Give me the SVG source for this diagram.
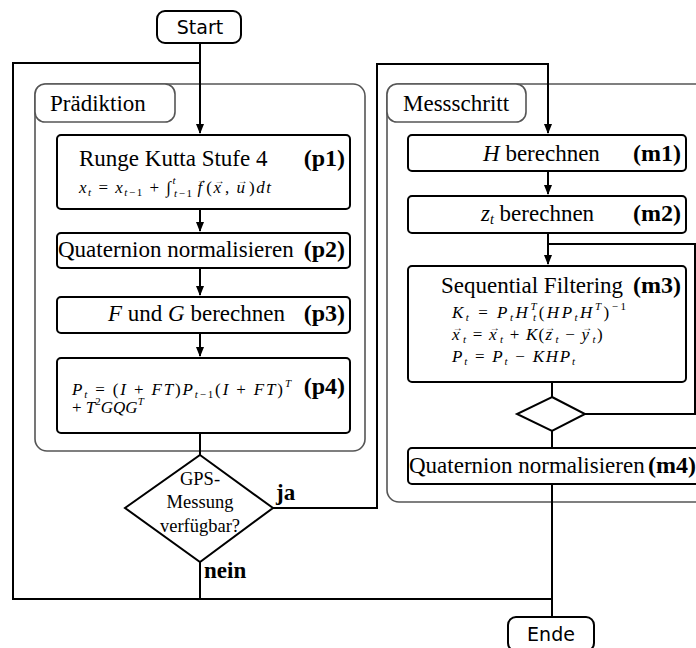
<svg xmlns="http://www.w3.org/2000/svg" width="696" height="648" viewBox="0 0 696 648">
<style>
.cont{fill:none;stroke:#555;stroke-width:1.6}
.lab{fill:#fff;stroke:#555;stroke-width:1.6}
.box{fill:#fff;stroke:#000;stroke-width:2}
.term{fill:#fff;stroke:#000;stroke-width:2}
.ln{fill:none;stroke:#000;stroke-width:2}
.t{font-family:"Liberation Serif","Times New Roman",serif;font-size:23px;fill:#000}
.d{font-family:"Liberation Serif","Times New Roman",serif;font-size:18.5px;fill:#000;text-anchor:middle}
.b{font-family:"Liberation Serif","Times New Roman",serif;font-weight:bold;font-size:24px;fill:#000}
.yn{font-family:"Liberation Serif","Times New Roman",serif;font-weight:bold;font-size:23px;fill:#000}
.m{font-family:"Liberation Serif","Times New Roman",serif;font-size:17px;fill:#000}
.i{font-style:italic}
.u{font-size:11px}
.v{font-size:10px}
.s{font-family:"DejaVu Sans",sans-serif;font-size:19px;fill:#000}
</style>
<defs>
<marker id="ar" markerWidth="10" markerHeight="10" refX="9" refY="5" orient="auto" markerUnits="userSpaceOnUse">
<path d="M0,1 L10,5 L0,9 Z" fill="#000"/>
</marker>
</defs>

<g id="containers">
<g id="praediktion">
<rect class="cont" x="35" y="84" width="330" height="367" rx="12"/>
<rect class="lab" x="35" y="84" width="140" height="38" rx="10"/>
<text class="t" x="50" y="111">Prädiktion</text>
</g>
<g id="messschritt">
<rect class="cont" x="387" y="84" width="330" height="418" rx="12"/>
<rect class="lab" x="387" y="84" width="139" height="38" rx="10"/>
<text class="t" x="403" y="111">Messschritt</text>
</g>
</g>

<g id="connectors">
<path class="ln" d="M200,43 V133" marker-end="url(#ar)"/>
<path class="ln" d="M200,63 H13 V599 H552"/>
<path class="ln" d="M200,209 V231" marker-end="url(#ar)"/>
<path class="ln" d="M200,268 V295" marker-end="url(#ar)"/>
<path class="ln" d="M200,333 V356" marker-end="url(#ar)"/>
<path class="ln" d="M200,433 V455"/>
<path class="ln" d="M200,562 V599"/>
<path class="ln" d="M273,508 H377 V64 H548 V133" marker-end="url(#ar)"/>
<path class="ln" d="M548,171 V194" marker-end="url(#ar)"/>
<path class="ln" d="M548,233 V264" marker-end="url(#ar)"/>
<path class="ln" d="M548,244 H695 V414 H585"/>
<path class="ln" d="M552,382 V397"/>
<path class="ln" d="M552,431 V448"/>
<path class="ln" d="M552,484 V617"/>
<text class="yn" x="276" y="500">ja</text>
<text class="yn" x="204" y="578">nein</text>
</g>

<g id="start">
<rect class="term" x="157" y="11" width="84" height="32" rx="8"/>
<text class="s" x="200" y="34" text-anchor="middle">Start</text>
</g>

<g id="p1">
<rect class="box" x="57" y="135" width="293" height="74" rx="4"/>
<text class="t" x="79" y="166">Runge Kutta Stufe 4</text>
<text class="b" x="345" y="166" text-anchor="end">(p1)</text>
<text class="m" x="79" y="193" textLength="192" lengthAdjust="spacing"><tspan class="i">x</tspan><tspan class="u i" dy="3">t</tspan><tspan dy="-3"> = </tspan><tspan class="i">x</tspan><tspan class="u" dy="3"><tspan class="i">t</tspan>−1</tspan><tspan dy="-3"> + ∫</tspan><tspan class="u i" dy="-9">t</tspan><tspan class="u" dx="-3" dy="13"><tspan class="i">t</tspan>−1</tspan><tspan class="i" dx="4" dy="-4">f</tspan><tspan class="v" dx="-7" dy="-10">→</tspan><tspan dx="-2" dy="10">(</tspan><tspan class="i">x</tspan><tspan class="v" dx="-8" dy="-9">→</tspan><tspan dx="-1" dy="9">, </tspan><tspan class="i">u</tspan><tspan class="v" dx="-9" dy="-9">→</tspan><tspan dx="0" dy="9">)</tspan><tspan class="i">dt</tspan></text>
</g>

<g id="p2">
<rect class="box" x="57" y="233" width="293" height="35" rx="4"/>
<text class="t" x="58" y="257">Quaternion normalisieren</text>
<text class="b" x="345" y="257" text-anchor="end">(p2)</text>
</g>

<g id="p3">
<rect class="box" x="57" y="297" width="293" height="36" rx="4"/>
<text class="t" x="108" y="321"><tspan class="i">F</tspan> und <tspan class="i">G</tspan> berechnen</text>
<text class="b" x="345" y="321" text-anchor="end">(p3)</text>
</g>

<g id="p4">
<rect class="box" x="57" y="358" width="293" height="75" rx="4"/>
<text class="m" x="72" y="395" textLength="219" lengthAdjust="spacing"><tspan class="i">P</tspan><tspan class="u i" dy="3">t</tspan><tspan dy="-3"> = (</tspan><tspan class="i">I</tspan><tspan> + </tspan><tspan class="i">FT</tspan><tspan>)</tspan><tspan class="i">P</tspan><tspan class="u" dy="3"><tspan class="i">t</tspan>−1</tspan><tspan dy="-3">(</tspan><tspan class="i">I</tspan><tspan> + </tspan><tspan class="i">FT</tspan><tspan>)</tspan><tspan class="u i" dy="-8">T</tspan></text>
<text class="m" x="72" y="413"><tspan>+ </tspan><tspan class="i">T</tspan><tspan class="u" dy="-8">2</tspan><tspan class="i" dy="8">GQG</tspan><tspan class="u i" dy="-8">T</tspan></text>
<text class="b" x="345" y="394" text-anchor="end">(p4)</text>
</g>

<g id="gps">
<path class="box" d="M200,455 L273,508 L200,562 L125,508 Z"/>
<text class="d" x="200" y="485">GPS-</text>
<text class="d" x="200" y="508">Messung</text>
<text class="d" x="200" y="532">verfügbar?</text>
</g>

<g id="m1">
<rect class="box" x="408" y="135" width="278" height="36" rx="4"/>
<text class="t" x="483" y="161"><tspan class="i">H</tspan> berechnen</text>
<text class="b" x="681" y="161" text-anchor="end">(m1)</text>
</g>

<g id="m2">
<rect class="box" x="408" y="196" width="278" height="37" rx="4"/>
<text class="t" x="481" y="221"><tspan class="i">z</tspan><tspan style="font-size:14px" class="i" dy="3">t</tspan><tspan dy="-3"> berechnen</tspan></text>
<text class="b" x="681" y="221" text-anchor="end">(m2)</text>
</g>

<g id="m3">
<rect class="box" x="408" y="266" width="278" height="116" rx="4"/>
<text class="t" x="441" y="293">Sequential Filtering</text>
<text class="b" x="681" y="293" text-anchor="end">(m3)</text>
<text class="m" x="452" y="318" textLength="174" lengthAdjust="spacing"><tspan class="i">K</tspan><tspan class="u i" dy="3">t</tspan><tspan dy="-3"> = </tspan><tspan class="i">P</tspan><tspan class="u i" dy="3">t</tspan><tspan class="i" dy="-3">H</tspan><tspan class="u i" dy="-8">T</tspan><tspan class="u i" dx="-6" dy="11">t</tspan><tspan dy="-3">(</tspan><tspan class="i">HP</tspan><tspan class="u i" dy="3">t</tspan><tspan class="i" dy="-3">H</tspan><tspan class="u i" dy="-8">T</tspan><tspan dy="8">)</tspan><tspan class="u" dy="-8">−1</tspan></text>
<text class="m" x="452" y="340" textLength="151" lengthAdjust="spacing"><tspan class="i">x</tspan><tspan class="v" dx="-8" dy="-9">→</tspan><tspan class="u i" dx="-1" dy="12">t</tspan><tspan dy="-3"> = </tspan><tspan class="i">x</tspan><tspan class="v" dx="-8" dy="-9">→</tspan><tspan class="u i" dx="-1" dy="12">t</tspan><tspan dy="-3"> + </tspan><tspan class="i">K</tspan><tspan>(</tspan><tspan class="i">z</tspan><tspan class="v" dx="-8" dy="-9">→</tspan><tspan class="u i" dx="-1" dy="12">t</tspan><tspan dy="-3"> − </tspan><tspan class="i">y</tspan><tspan class="v" dx="-8" dy="-9">→</tspan><tspan class="u i" dx="-1" dy="12">t</tspan><tspan dy="-3">)</tspan></text>
<text class="m" x="452" y="362" textLength="123" lengthAdjust="spacing"><tspan class="i">P</tspan><tspan class="u i" dy="3">t</tspan><tspan dy="-3"> = </tspan><tspan class="i">P</tspan><tspan class="u i" dy="3">t</tspan><tspan dy="-3"> − </tspan><tspan class="i">KHP</tspan><tspan class="u i" dy="3">t</tspan></text>
</g>

<g id="loopcheck">
<path class="box" d="M552,397 L585,414 L552,431 L517,414 Z"/>
</g>

<g id="m4">
<rect class="box" x="408" y="448" width="292" height="36" rx="4"/>
<text class="t" x="409" y="473">Quaternion normalisieren</text>
<text class="b" x="696" y="473" text-anchor="end">(m4)</text>
</g>

<g id="ende">
<rect class="term" x="508" y="617" width="86" height="34" rx="8"/>
<text class="s" x="551" y="641" text-anchor="middle">Ende</text>
</g>
</svg>
